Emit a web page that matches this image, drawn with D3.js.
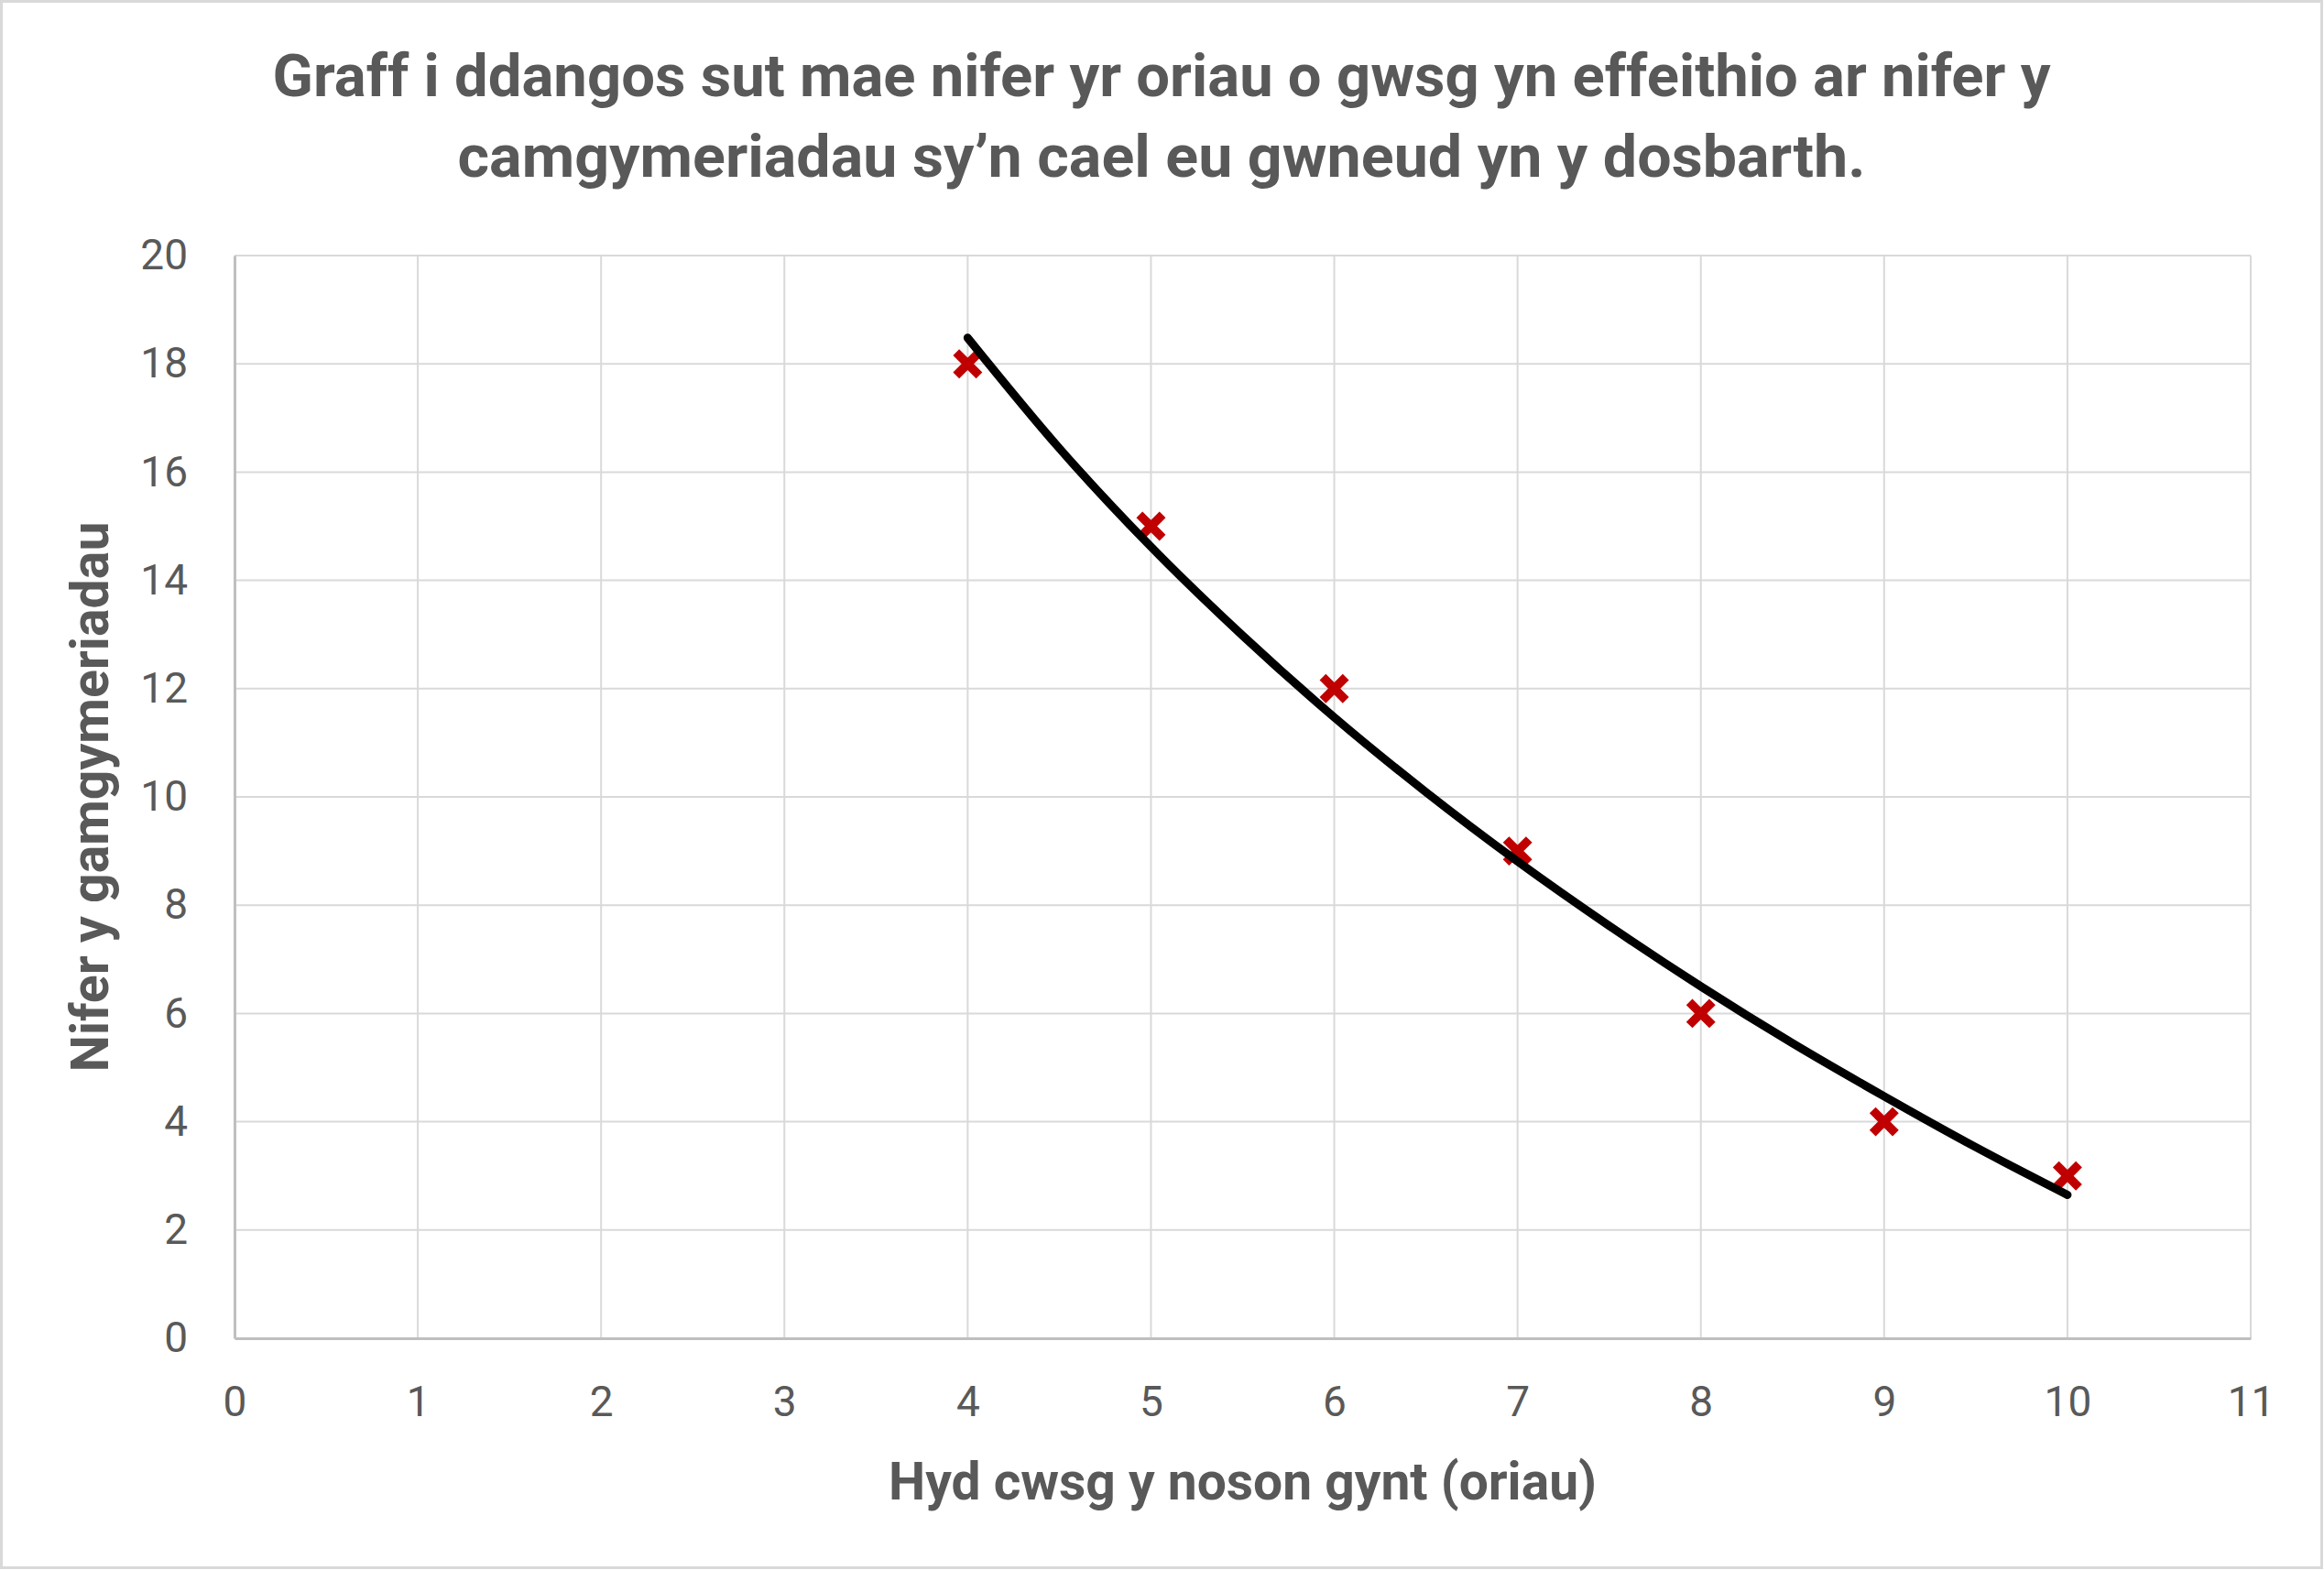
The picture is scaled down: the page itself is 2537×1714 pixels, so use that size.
<!DOCTYPE html>
<html>
<head>
<meta charset="utf-8">
<script src="https://cdn.jsdelivr.net/npm/d3@7"></script>
<style>
  html, body { margin: 0; padding: 0; background: #fff; }
  svg { display: block; }
</style>
</head>
<body>
<div id="chart"></div>
<script>
'use strict';

// data
var hours = [4, 5, 6, 7, 8, 9, 10];
var mistakes = [18, 15, 12, 9, 6, 4, 3];

// trendline as drawn in the reference (sampled every half hour)
var trendX = [4, 4.5, 5, 5.5, 6, 6.5, 7, 7.5, 8, 8.5, 9, 9.5, 10];
var trendY = [18.48, 16.44, 14.62, 12.98, 11.47, 10.09, 8.81, 7.62, 6.50, 5.45, 4.47, 3.53, 2.65];

var xTicks = [0, 1, 2, 3, 4, 5, 6, 7, 8, 9, 10, 11];
var yTicks = [0, 2, 4, 6, 8, 10, 12, 14, 16, 18, 20];

var titleLines = [
    "Graff i ddangos sut mae nifer yr oriau o gwsg yn effeithio ar nifer y",
    "camgymeriadau sy\u2019n cael eu gwneud yn y dosbarth."
];
var xTitle = "Hyd cwsg y noson gynt (oriau)";
var yTitle = "Nifer y gamgymeriadau";

var W = 2537, H = 1714;
var margin = {top: 279, right: 80, bottom: 253, left: 256};
var width = W - margin.left - margin.right;
var height = H - margin.top - margin.bottom;
var font = "Roboto, 'Noto Sans', sans-serif";
var grey = "#595959";

var svg = d3.select("#chart").append("svg")
    .attr("width", W)
    .attr("height", H);

// outer chart border
svg.append("rect")
    .attr("x", 1.5).attr("y", 1.5)
    .attr("width", W - 4).attr("height", H - 4)
    .attr("fill", "#fff")
    .attr("stroke", "#d9d9d9")
    .attr("stroke-width", 3);

var x = d3.scaleLinear().domain([0, 11]).range([0, width]);
var y = d3.scaleLinear().domain([0, 20]).range([height, 0]);

var g = svg.append("g")
    .attr("transform", "translate(" + margin.left + "," + margin.top + ")");

// gridlines
g.append("g")
    .selectAll("line")
    .data(yTicks.slice(1))
    .enter().append("line")
    .attr("x1", 0).attr("x2", width)
    .attr("y1", function (d) { return y(d); })
    .attr("y2", function (d) { return y(d); })
    .attr("stroke", "#d9d9d9")
    .attr("stroke-width", 2);

g.append("g")
    .selectAll("line")
    .data(xTicks.slice(1))
    .enter().append("line")
    .attr("y1", 0).attr("y2", height)
    .attr("x1", function (d) { return x(d); })
    .attr("x2", function (d) { return x(d); })
    .attr("stroke", "#d9d9d9")
    .attr("stroke-width", 2);

// axes
var xAxis = g.append("g")
    .attr("transform", "translate(0," + height + ")")
    .call(d3.axisBottom(x).tickValues(xTicks).tickSize(0).tickPadding(52).tickFormat(d3.format("d")));
var yAxis = g.append("g")
    .call(d3.axisLeft(y).tickValues(yTicks).tickSize(0).tickPadding(51).tickFormat(d3.format("d")));

[xAxis, yAxis].forEach(function (ax) {
    ax.select(".domain").attr("stroke", "#bfbfbf").attr("stroke-width", 3);
    ax.selectAll("text")
        .attr("fill", grey)
        .style("font-family", font)
        .style("font-size", "46px");
});
xAxis.selectAll("text").attr("dy", "0.71em");

// markers
var r = 12.6;
g.append("g")
    .selectAll("path")
    .data(hours)
    .enter().append("path")
    .attr("transform", function (d, i) {
        return "translate(" + x(d) + "," + y(mistakes[i]) + ")";
    })
    .attr("d", "M" + -r + "," + -r + "L" + r + "," + r + "M" + -r + "," + r + "L" + r + "," + -r)
    .attr("stroke", "#c00000")
    .attr("stroke-width", 9.5)
    .attr("fill", "none");

// trendline
var line = d3.line()
    .x(function (d) { return x(d); })
    .y(function (d, i) { return y(trendY[i]); })
    .curve(d3.curveMonotoneX);

g.append("path")
    .datum(trendX)
    .attr("d", line)
    .attr("fill", "none")
    .attr("stroke", "#000")
    .attr("stroke-width", 9)
    .attr("stroke-linecap", "round");

// title
var titleWidths = [1941, 1537];
var titleBase = [105, 193];
titleLines.forEach(function (t, i) {
    svg.append("text")
        .attr("x", 1268)
        .attr("y", titleBase[i])
        .attr("text-anchor", "middle")
        .attr("fill", grey)
        .attr("textLength", titleWidths[i])
        .attr("lengthAdjust", "spacingAndGlyphs")
        .style("font-family", font)
        .style("font-weight", "bold")
        .style("font-size", "64px")
        .text(t);
});

// axis titles
svg.append("text")
    .attr("x", margin.left + width / 2)
    .attr("y", 1637)
    .attr("text-anchor", "middle")
    .attr("fill", grey)
    .attr("textLength", 773)
    .attr("lengthAdjust", "spacingAndGlyphs")
    .style("font-family", font)
    .style("font-weight", "bold")
    .style("font-size", "57px")
    .text(xTitle);

svg.append("text")
    .attr("transform", "translate(118," + (margin.top + height / 2) + ") rotate(-90)")
    .attr("text-anchor", "middle")
    .attr("fill", grey)
    .attr("textLength", 601)
    .attr("lengthAdjust", "spacingAndGlyphs")
    .style("font-family", font)
    .style("font-weight", "bold")
    .style("font-size", "57px")
    .text(yTitle);
</script>
</body>
</html>
